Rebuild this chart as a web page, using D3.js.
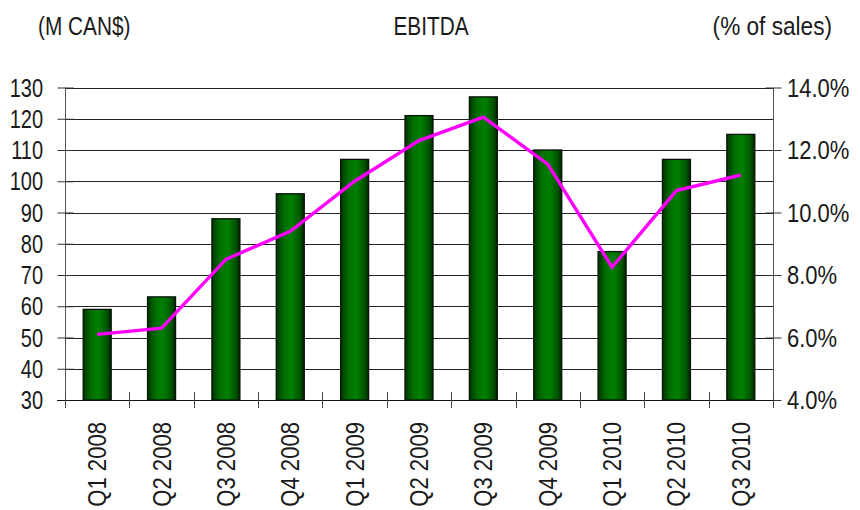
<!DOCTYPE html>
<html>
<head>
<meta charset="utf-8">
<script src="https://cdn.jsdelivr.net/npm/d3@7"></script>
<style>
  html, body { margin: 0; padding: 0; background: #fff; }
  svg { display: block; font-family: "Liberation Sans", Arial, sans-serif; }
</style>
</head>
<body>
<svg id="chart" width="860" height="510"></svg>
<script>
// Quarterly EBITDA (M CAN$) and EBITDA margin (% of sales)
const quarters = ["Q1 2008", "Q2 2008", "Q3 2008", "Q4 2008", "Q1 2009", "Q2 2009",
                  "Q3 2009", "Q4 2009", "Q1 2010", "Q2 2010", "Q3 2010"];
const ebitda = [59, 63, 88, 96, 107, 121, 127, 110, 77.5, 107, 115];
const margin = [6.1, 6.3, 8.5, 9.4, 11.0, 12.3, 13.05, 11.55, 8.25, 10.7, 11.2];
const leftTicks = [30, 40, 50, 60, 70, 80, 90, 100, 110, 120, 130];
const rightTicks = [4, 6, 8, 10, 12, 14];

const svg = d3.select("#chart");
const plot = { left: 65, right: 773, top: 87.5, bottom: 400 };

const x = d3.scaleBand().domain(quarters).range([plot.left, plot.right]).paddingInner(0).paddingOuter(0);
const yL = d3.scaleLinear().domain([30, 130]).range([plot.bottom, plot.top]);
const yR = d3.scaleLinear().domain([4, 14]).range([plot.bottom, plot.top]);

// Condensed text: regular sans squeezed horizontally
function narrowText(parent, str, px, py, opts = {}) {
  const size = opts.size || 25, sx = opts.sx || 0.84, rot = opts.rotate || 0;
  return parent.append("text")
    .attr("transform", `translate(${px},${py}) rotate(${rot}) scale(${sx},1)`)
    .attr("text-anchor", opts.anchor || "start")
    .attr("dy", opts.dy || null)
    .attr("font-size", size)
    .attr("fill", "#1a1a1a")
    .text(str);
}

// Bar shading: dark edges, brighter centre
const defs = svg.append("defs");
const grad = defs.append("linearGradient").attr("id", "barGrad").attr("x1", "0").attr("x2", "1").attr("y1", "0").attr("y2", "0");
grad.append("stop").attr("offset", "0%").attr("stop-color", "#003400");
grad.append("stop").attr("offset", "28%").attr("stop-color", "#006e00");
grad.append("stop").attr("offset", "55%").attr("stop-color", "#008000");
grad.append("stop").attr("offset", "85%").attr("stop-color", "#005400");
grad.append("stop").attr("offset", "100%").attr("stop-color", "#002400");

// Horizontal gridlines
svg.append("g")
  .selectAll("line")
  .data(leftTicks)
  .join("line")
  .attr("x1", plot.left).attr("x2", plot.right)
  .attr("y1", d => Math.round(yL(d)) + 0.5).attr("y2", d => Math.round(yL(d)) + 0.5)
  .attr("stroke", "#222").attr("stroke-width", 1);

// Left axis (ticks cross the axis line)
const axL = svg.append("g").attr("transform", `translate(${plot.left + 0.5},0)`)
  .call(d3.axisLeft(yL).tickValues(leftTicks).tickSize(8).tickFormat(""));
axL.selectAll(".tick line").attr("x2", 8).attr("x1", -8).attr("stroke", "#333");
axL.select(".domain").attr("stroke", "#555").attr("d", `M0,${plot.top}V${plot.bottom + 8}`);
leftTicks.forEach(t => narrowText(svg, d3.format("d")(t), 43, yL(t), { anchor: "end", dy: "0.36em", size: 25, sx: 0.8 }));

// Right axis
const axR = svg.append("g").attr("transform", `translate(${plot.right + 0.5},0)`)
  .call(d3.axisRight(yR).tickValues(rightTicks).tickSize(8).tickFormat(""));
axR.selectAll(".tick line").attr("x1", -8).attr("x2", 8).attr("stroke", "#333");
axR.select(".domain").attr("stroke", "#555").attr("d", `M0,${plot.top}V${plot.bottom + 8}`);
rightTicks.forEach(t => narrowText(svg, t.toFixed(1) + "%", 787, yR(t), { anchor: "start", dy: "0.36em", size: 25, sx: 0.88 }));

// Bars
svg.append("g")
  .selectAll("rect")
  .data(quarters)
  .join("rect")
  .attr("x", d => x(d) + x.bandwidth() / 2 - 14)
  .attr("width", 28)
  .attr("y", (d, i) => yL(ebitda[i]))
  .attr("height", (d, i) => plot.bottom - yL(ebitda[i]))
  .attr("fill", "url(#barGrad)")
  .attr("stroke", "#0a140a").attr("stroke-width", 1.3);

// Bottom axis with category separators
const axB = svg.append("g").attr("transform", `translate(0,${plot.bottom + 0.5})`)
  .call(d3.axisBottom(x).tickSize(0).tickFormat(""));
axB.select(".domain").attr("stroke", "#111").attr("d", `M${plot.left - 8},0H${plot.right}`);
svg.append("g")
  .selectAll("line")
  .data(d3.range(quarters.length + 1))
  .join("line")
  .attr("x1", i => Math.round(plot.left + i * x.bandwidth()) + 0.5)
  .attr("x2", i => Math.round(plot.left + i * x.bandwidth()) + 0.5)
  .attr("y1", plot.bottom - 8).attr("y2", plot.bottom + 8)
  .attr("stroke", "#444");

// Category labels, rotated
const catG = svg.append("g");
quarters.forEach(q => narrowText(catG, q, x(q) + x.bandwidth() / 2 + 9, 422, { anchor: "end", rotate: -90, size: 26, sx: 0.85 }));

// Margin line
const line = d3.line()
  .x((d, i) => x(quarters[i]) + x.bandwidth() / 2)
  .y(d => yR(d));
svg.append("path")
  .datum(margin)
  .attr("d", line)
  .attr("fill", "none")
  .attr("stroke", "#ff00ff")
  .attr("stroke-width", 3.4)
  .attr("stroke-linejoin", "miter");

// Titles
narrowText(svg, "(M CAN$)", 38, 35, { size: 26, sx: 0.8 });
narrowText(svg, "EBITDA", 431, 35, { anchor: "middle", size: 26, sx: 0.8 });
narrowText(svg, "(% of sales)", 832, 35, { anchor: "end", size: 26, sx: 0.87 });
</script>
</body>
</html>
